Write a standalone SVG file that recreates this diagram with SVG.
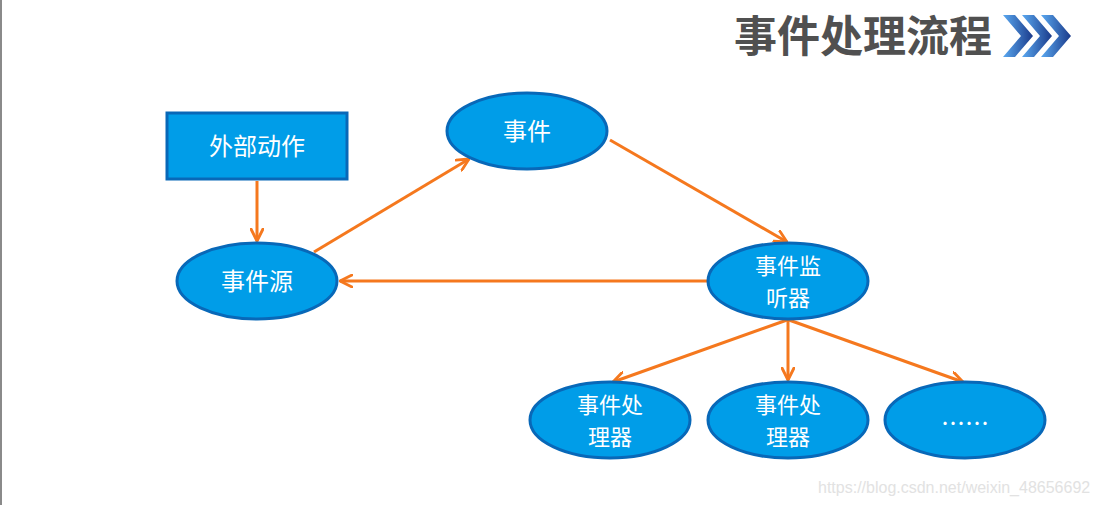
<svg xmlns="http://www.w3.org/2000/svg" width="1099" height="505" viewBox="0 0 1099 505">
<style>
.node{fill:#009de8;stroke:#0868b8;stroke-width:3}
.lbl{font-family:"Noto Sans CJK SC","Noto Sans",sans-serif;font-size:24px;fill:#ffffff;text-anchor:middle}
.lbl2{font-family:"Noto Sans CJK SC","Noto Sans",sans-serif;font-size:22px;fill:#ffffff;text-anchor:middle}
.conn{stroke:#f5781e;stroke-width:3;fill:none;marker-end:url(#arr)}
.title{font-family:"Noto Sans CJK SC",sans-serif;font-weight:bold;font-size:43px;fill:#505050}
.wm{font-family:"Liberation Sans",Arial,sans-serif;font-size:16px;fill:#e2e2e2}
</style>
<defs>
<marker id="arr" viewBox="0 0 14 14" refX="13" refY="7" markerWidth="14" markerHeight="14" markerUnits="userSpaceOnUse" orient="auto">
<path d="M1,1 L13,7 L1,13" fill="none" stroke="#f5781e" stroke-width="2.8" stroke-linecap="round" stroke-linejoin="round"/>
</marker>
<linearGradient id="chev" x1="0" y1="0" x2="1" y2="0">
<stop offset="0" stop-color="#5aa8f0"/>
<stop offset="1" stop-color="#1a3a8a"/>
</linearGradient>
</defs>
<rect x="0" y="0" width="1099" height="505" fill="#ffffff"/>
<rect x="0" y="0" width="2" height="505" fill="#8a8a8a"/>
<g id="title">
<text class="title" x="734" y="52">事件处理流程</text>
<polygon points="1003,15 1015,15 1033,36 1015,57 1003,57 1021,36" fill="url(#chev)"/>
<polygon points="1022,15 1034,15 1052,36 1034,57 1022,57 1040,36" fill="url(#chev)"/>
<polygon points="1041,15 1053,15 1071,36 1053,57 1041,57 1059,36" fill="url(#chev)"/>
</g>
<g id="connectors">
<line class="conn" x1="257" y1="181" x2="257" y2="241"/>
<line class="conn" x1="314" y1="252" x2="469" y2="159"/>
<line class="conn" x1="610" y1="140" x2="787" y2="242"/>
<line class="conn" x1="707" y1="281" x2="340" y2="281"/>
<line class="conn" x1="787" y1="320" x2="613" y2="382"/>
<line class="conn" x1="788" y1="320" x2="788" y2="380"/>
<line class="conn" x1="789" y1="320" x2="963" y2="382"/>
</g>
<g id="n-external">
<rect class="node" x="167" y="113" width="180" height="66"/>
<text class="lbl" x="257" y="155">外部动作</text>
</g>
<g id="n-event">
<ellipse class="node" cx="527" cy="131" rx="80" ry="38"/>
<text class="lbl" x="527" y="140">事件</text>
</g>
<g id="n-source">
<ellipse class="node" cx="257" cy="281" rx="80" ry="38"/>
<text class="lbl" x="257" y="290">事件源</text>
</g>
<g id="n-listener">
<ellipse class="node" cx="788" cy="281" rx="80" ry="38"/>
<text class="lbl2"><tspan x="788" y="274">事件监</tspan><tspan x="788" y="306">听器</tspan></text>
</g>
<g id="n-handler1">
<ellipse class="node" cx="610" cy="420" rx="80" ry="38"/>
<text class="lbl2"><tspan x="610" y="413">事件处</tspan><tspan x="610" y="445">理器</tspan></text>
</g>
<g id="n-handler2">
<ellipse class="node" cx="788" cy="420" rx="80" ry="38"/>
<text class="lbl2"><tspan x="788" y="413">事件处</tspan><tspan x="788" y="445">理器</tspan></text>
</g>
<g id="n-more">
<ellipse class="node" cx="965" cy="420" rx="80" ry="38"/>
<text class="lbl" x="965" y="432">……</text>
</g>
<text class="wm" x="818" y="493">https://blog.csdn.net/weixin_48656692</text>
</svg>
